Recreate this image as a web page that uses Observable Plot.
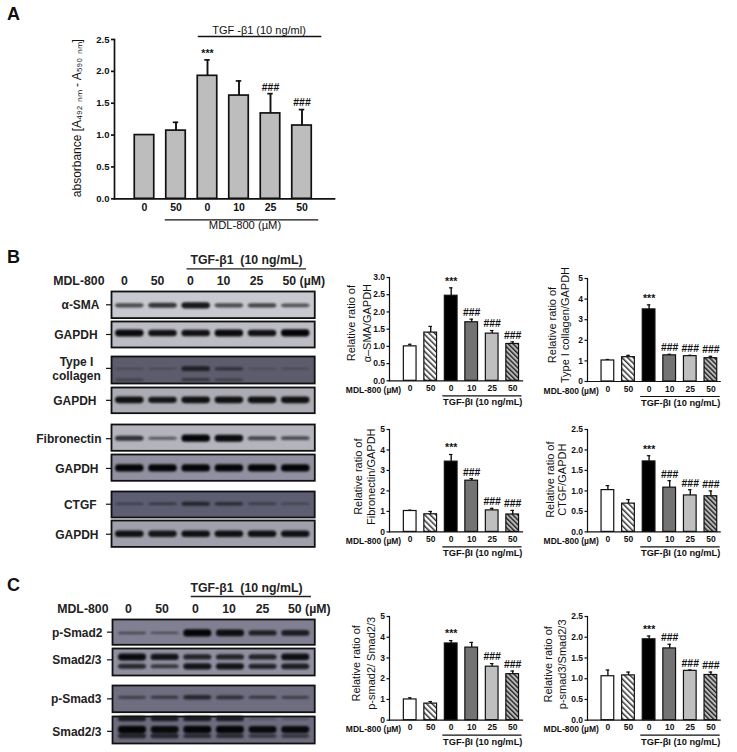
<!DOCTYPE html>
<html><head><meta charset="utf-8">
<script src="https://cdn.jsdelivr.net/npm/d3@7"></script>
<script src="https://cdn.jsdelivr.net/npm/@observablehq/plot@0.6"></script>
<style>
html,body{margin:0;padding:0;background:#fff}
#root{position:relative;width:737px;height:752px;overflow:hidden;font-family:"Liberation Sans",Arial,sans-serif}
#root svg.p{position:absolute;background:transparent;max-width:none;overflow:visible}
.letter{position:absolute;font-weight:bold;font-size:18px;line-height:18px;color:#111}
.blot g[aria-label="bar"]{filter:blur(.8px)}
</style></head><body>
<svg width="0" height="0" style="position:absolute">
<defs>
<pattern id="hatchLight" width="4" height="4" patternUnits="userSpaceOnUse" patternTransform="rotate(-45)">
<rect width="4" height="4" fill="#fff"/><rect width="1.5" height="4" fill="#333"/></pattern>
<pattern id="hatchDark" width="3.4" height="3.4" patternUnits="userSpaceOnUse" patternTransform="rotate(-45)">
<rect width="3.4" height="3.4" fill="#bbb"/><rect width="1.4" height="3.4" fill="#222"/></pattern>
</defs></svg>
<div id="root">
<div class="letter" style="left:7px;top:5px">A</div>
<div class="letter" style="left:7px;top:248px">B</div>
<div class="letter" style="left:7px;top:576px">C</div>
</div>
<script>
// ---- categories and labels
const groups = ["ctl 0","ctl 50","TGF 0","TGF 10","TGF 25","TGF 50"];
const doses = ["0","50","0","10","25","50"];
const barFills = ["white","url(#hatchLight)","black","#737373","#bfbfbf","url(#hatchDark)"];
const sig3 = ["","","***","###","###","###"];
const sig2 = ["","","***","","###","###"];

// ---- bar values: mean and top of error bar
const absMean = [1.0,1.07,1.93,1.62,1.34,1.15];
const absTop  = [1.0,1.20,2.18,1.85,1.65,1.40];
const smaMean = [1.0,1.40,2.47,1.70,1.37,1.07];
const smaTop  = [1.06,1.58,2.70,1.79,1.46,1.13];
const colMean = [1.02,1.18,3.50,1.27,1.23,1.13];
const colTop  = [1.07,1.27,3.72,1.32,1.27,1.22];
const fibMean = [1.02,0.86,3.43,2.50,1.05,0.85];
const fibTop  = [1.06,1.00,3.78,2.60,1.15,1.05];
const ctgfMean= [1.02,0.69,1.72,1.08,0.89,0.87];
const ctgfTop = [1.13,0.79,1.86,1.25,1.03,1.00];
const ps2Mean = [1.00,0.80,3.70,3.50,2.58,2.22];
const ps2Top  = [1.08,0.90,3.84,3.75,2.73,2.37];
const ps3Mean = [1.06,1.08,1.95,1.73,1.19,1.09];
const ps3Top  = [1.21,1.16,2.03,1.83,1.21,1.16];

// ---- blot band strengths per lane (0..1)
const bSMA  = [.5,.65,.85,.5,.55,.45];
const bG1   = [.95,.9,.9,.95,.9,1];
const bCol  = [.08,.05,.6,.35,.04,.06];
const bCol2 = [.15,0,.3,.22,0,0];
const bG2   = [.9,.85,.9,.9,.9,.9];
const bFib  = [.65,.35,1,.95,.5,.45];
const bG3   = [1,1,1,1,1,1];
const bCTGF = [.2,.25,.5,.4,.22,.15];
const bG4   = [.9,.85,.9,.9,.9,.9];
const bPS2  = [.25,.2,1,.9,.7,.75];
const bS1a  = [.95,.85,.7,.7,.7,.9];
const bS1b  = [.65,.5,.85,.85,.7,.75];
const bPS3  = [.3,.35,.55,.45,.35,.3];
const bS2a  = [.7,.7,.7,.7,.1,.1];
const bS2b  = [1,.95,1,1,.95,.95];
const bS2c  = [.6,.6,.5,.5,.4,.4];

const root = document.getElementById("root");
function place(svg,left,top){svg.classList.add("p");svg.style.left=left+"px";svg.style.top=top+"px";svg.style.background="transparent";root.append(svg);return svg;}
const at=k=>()=>groups[k];

function barChart(o){
  const mL=64,mT=24,mR=22,mB=46;
  const W=o.xEnd-o.ax, H=o.yBase-o.yTop;
  const rows=groups.map((g,i)=>({g,dose:doses[i],mean:o.mean[i],top:o.top[i],sig:o.sig[i]}));
  const inner=1-o.w/o.step;
  const x0=o.c0-o.step/2-o.ax+mL;
  const sw=o.big?1.7:1.2;
  const svg=Plot.plot({
    width:W+mL+mR,height:H+mT+mB,marginLeft:mL,marginTop:mT,marginRight:mR,marginBottom:mB,
    style:{fontFamily:'"Liberation Sans",Arial,sans-serif',fontWeight:"bold",fontSize:o.fs+"px",color:"#111",background:"transparent"},
    x:{domain:groups,range:[x0,x0+6*o.step],paddingInner:inner,paddingOuter:inner/2,round:false,label:null},
    y:{domain:[0,o.max],label:null},
    color:{domain:groups,range:o.fills},
    marks:[
      Plot.ruleX(rows.filter(d=>d.top>d.mean),{x:"g",y1:"mean",y2:"top",strokeWidth:sw+.2,stroke:"#111"}),
      Plot.tickY(rows.filter(d=>d.top>d.mean),{x:"g",y:"top",strokeWidth:sw,stroke:"#111",insetLeft:o.w*.36,insetRight:o.w*.36}),
      Plot.barY(rows,{x:"g",y:"mean",fill:"g",stroke:"#111",strokeWidth:sw}),
      Plot.frame({anchor:"left",strokeWidth:sw,stroke:"#111"}),
      Plot.frame({anchor:"bottom",strokeWidth:sw,stroke:"#111"}),
      Plot.axisY({ticks:o.ticks,tickFormat:o.tf,tickSize:o.big?3:2.5,tickPadding:2,strokeWidth:sw,label:null}),
      Plot.axisX({tickSize:0,tickPadding:o.big?5:4,tickFormat:d=>doses[groups.indexOf(d)],fontSize:o.xfs,label:null}),
      Plot.text(rows,{x:"g",y:"top",text:d=>d.sig,dy:-6.5,fontSize:10.5,fontWeight:d=>d.sig==="***"?"bold":"normal",lineAnchor:"middle"}),
      Plot.text([o.yLabel],{frameAnchor:"left",textAnchor:"middle",rotate:-90,dx:o.ylDx,fontSize:o.ylfs,fontWeight:"normal",lineHeight:o.ylh,dy:o.ylDy||0}),
      ...o.extra(rows)
    ]
  });
  place(svg,o.ax-mL,o.yTop-mT);
}

const lowerB=()=>[
  Plot.text(["MDL-800 (µM)"],{x:at(0),y:()=>0,dx:-9,dy:9.5,textAnchor:"end",fontSize:8.5}),
  Plot.ruleY([0],{x1:at(2),x2:at(5),dy:15,insetLeft:-2,insetRight:-3,stroke:"#111",strokeWidth:1.2}),
  Plot.text(["TGF-βI (10 ng/mL)"],{x:at(3),y:()=>0,dx:11,dy:21.5,fontSize:9.3})
];

const f1=d3.format(".1f"), f0=d3.format("d");
const common={w:12.7,step:20.5,fs:8.5,xfs:8.5,fills:barFills,extra:lowerB,ylfs:11};

// Panel A
barChart({ax:114,xEnd:334,yTop:38.7,yBase:198,c0:144,step:31.5,w:19.5,max:2.5,ticks:[0,.5,1,1.5,2,2.5],tf:f1,
  mean:absMean,top:absTop,sig:sig2,fills:groups.map(()=>"#bdbdbd"),fs:9.5,xfs:10.5,big:true,
  yLabel:"absorbance [A₄₉₂ ₙₘ - A₅₉₀ ₙₘ]",ylDx:-38,ylfs:12,ylh:1.2,ylDy:-1,
  extra:()=>[
    Plot.ruleY([2.5],{x1:at(2),x2:at(5),dy:-3,insetLeft:.5,insetRight:-10,stroke:"#111",strokeWidth:1.3}),
    Plot.text(["TGF -β1 (10 ng/ml)"],{x:at(3),y:()=>2.5,dx:20,dy:-9.5,fontSize:11,fontWeight:"normal"}),
    Plot.ruleY([0],{x1:at(1),x2:at(5),dy:21,insetLeft:-1,insetRight:-7,stroke:"#111",strokeWidth:1.3}),
    Plot.text(["MDL-800 (µM)"],{x:at(3),y:()=>0,dx:6,dy:27,fontSize:11.2,fontWeight:"normal"})
  ]});

// Panel B and C bars
barChart({...common,ax:389,xEnd:522,yTop:276.7,yBase:380,c0:409.7,max:3,ticks:[0,.5,1,1.5,2,2.5,3],tf:f1,mean:smaMean,top:smaTop,sig:sig3,yLabel:"Relative ratio of\nα–SMA/GAPDH",ylDx:-32,ylDy:-6,ylh:1.45});
barChart({...common,ax:587.3,xEnd:720,yTop:277.7,yBase:380.7,c0:607.7,step:20.6,max:5,ticks:[0,1,2,3,4,5],tf:f0,mean:colMean,top:colTop,sig:sig3,yLabel:"Relative ratio of\nType I collagen/GAPDH",ylDx:-29,ylDy:-5,ylh:1.2});
barChart({...common,ax:389,xEnd:522,yTop:429.3,yBase:531.7,c0:409.7,max:5,ticks:[0,1,2,3,4,5],tf:f0,mean:fibMean,top:fibTop,sig:sig3,yLabel:"Relative ratio of\nFibronectin/GAPDH",ylDx:-25,ylDy:-4,ylh:1.15});
barChart({...common,ax:587.3,xEnd:720,yTop:429.3,yBase:531.7,c0:607.7,step:20.6,max:2.5,ticks:[0,.5,1,1.5,2,2.5],tf:f1,mean:ctgfMean,top:ctgfTop,sig:sig3,yLabel:"Relative ratio of\nCTGF/GAPDH",ylDx:-31,ylDy:-1,ylh:1.1});
barChart({...common,ax:389,xEnd:522,yTop:616.3,yBase:720,c0:409.7,max:5,ticks:[0,1,2,3,4,5],tf:f0,mean:ps2Mean,top:ps2Top,sig:sig2,yLabel:"Relative ratio of\np-smad2/ Smad2/3",ylDx:-26.5,ylDy:-5,ylh:1.36});
barChart({...common,ax:587.3,xEnd:720,yTop:616.3,yBase:720,c0:607.7,step:20.6,max:2.5,ticks:[0,.5,1,1.5,2,2.5],tf:f1,mean:ps3Mean,top:ps3Top,sig:sig3,yLabel:"Relative ratio of\np-smad3/Smad2/3",ylDx:-33,ylDy:-4,ylh:1.28});

// Western blot strips
function blot(o){
  const mL=100,pad=2,h=o.y2-o.y1,w=o.x2-o.x1;
  const step=(o.c5-o.c0)/5;
  const x0=o.c0-step/2-o.x1+mL;
  const inner=.14;
  const rows=[];
  o.bands.forEach(b=>b.s.forEach((s,i)=>{ if(s>0) rows.push({g:groups[i],y:b.y,s}); }));
  const t=s=>(.8+s*6.5)/h;
  const svg=Plot.plot({
    width:w+mL+pad,height:h,marginLeft:mL,marginRight:pad,marginTop:0,marginBottom:0,
    style:{fontFamily:'"Liberation Sans",Arial,sans-serif',fontWeight:"bold",fontSize:"12px",color:"#222",background:"transparent"},
    x:{domain:groups,range:[x0,x0+6*step],paddingInner:inner,paddingOuter:inner/2,round:false,axis:null},
    y:{domain:[0,1],reverse:true,label:null},
    opacity:{type:"identity"},
    marks:[
      Plot.frame({fill:o.bg,stroke:"none"}),
      Plot.barY(rows,{x:"g",y1:d=>d.y-t(d.s)/2,y2:d=>d.y+t(d.s)/2,fill:"#050508",fillOpacity:d=>.3+.7*d.s,rx:3.5}),
      Plot.frame({stroke:"#111",strokeWidth:1.8}),
      Plot.axisY({ticks:[o.tick],tickSize:5,tickPadding:o.tp,tickFormat:()=>o.label,textAnchor:o.ta||"end",lineHeight:1.2,stroke:"#111",strokeWidth:1.2,label:null})
    ]
  });
  svg.classList.add("blot");
  place(svg,o.x1-mL,o.y1);
}
const rB={x1:110.7,x2:314,c0:129,c5:295,tp:4};
blot({...rB,label:"α-SMA",y1:290.7,y2:317.3,bg:"#c8c8d0",tick:.5,tp:7,bands:[{y:.54,s:bSMA}]});
blot({...rB,label:"GAPDH",y1:321.3,y2:347.3,bg:"#bcbcc4",tick:.5,tp:9,bands:[{y:.46,s:bG1}]});
blot({...rB,label:"Type I\ncollagen",y1:356.3,y2:383.3,bg:"#5c5c6c",tick:.44,tp:30,ta:"middle",bands:[{y:.47,s:bCol},{y:.88,s:bCol2}]});
blot({...rB,label:"GAPDH",y1:387,y2:412.7,bg:"#acacb4",tick:.5,tp:10,bands:[{y:.5,s:bG2}]});
blot({...rB,label:"Fibronectin",y1:424,y2:450.3,bg:"#b4b4bc",tick:.54,tp:5,bands:[{y:.54,s:bFib}]});
blot({...rB,label:"GAPDH",y1:453.7,y2:480,bg:"#9090a0",tick:.53,tp:8,bands:[{y:.53,s:bG3}]});
blot({...rB,label:"CTGF",y1:490.7,y2:516.7,bg:"#5e5e72",tick:.49,tp:10,bands:[{y:.49,s:bCTGF}]});
blot({...rB,label:"GAPDH",y1:520.3,y2:546.7,bg:"#a0a0ac",tick:.52,tp:8,bands:[{y:.52,s:bG4}]});
const rC={x1:111.7,x2:314,c0:131.7,c5:295,tp:5};
blot({...rC,label:"p-Smad2",y1:618.7,y2:644,bg:"#808092",tick:.5,bands:[{y:.55,s:bPS2}]});
blot({...rC,label:"Smad2/3",y1:648.3,y2:675.3,bg:"#9090a0",tick:.42,tp:6,bands:[{y:.33,s:bS1a},{y:.68,s:bS1b}]});
blot({...rC,label:"p-Smad3",y1:685.3,y2:712,bg:"#6e6e80",tick:.5,tp:6,bands:[{y:.46,s:bPS3}]});
blot({...rC,label:"Smad2/3",y1:715.7,y2:742.7,bg:"#6c6c7e",tick:.55,tp:6,bands:[{y:.1,s:bS2a},{y:.5,s:bS2b},{y:.74,s:bS2c}]});

// Blot headers
function head(o){
  const step=o.step;
  const rows=groups.map((g,i)=>({g,dose:doses[i]}));
  const svg=Plot.plot({
    width:360,height:44,margin:0,
    style:{fontFamily:'"Liberation Sans",Arial,sans-serif',fontWeight:"bold",fontSize:"12px",color:"#222",background:"transparent"},
    x:{type:"band",domain:groups,range:[o.c0-step/2,o.c0+5.5*step],round:false,padding:0,axis:null},
    y:{domain:[0,1],axis:null},
    marks:[
      Plot.text(["TGF-β1\u00a0\u00a0(10 ng/mL)"],{x:at(3),dx:o.tgfDx,frameAnchor:"top",textAnchor:"middle",lineAnchor:"middle",dy:o.d1,fontSize:12.3}),
      Plot.ruleY([1],{x1:at(2),x2:at(5),dy:o.d2,insetLeft:o.il,insetRight:o.ir,stroke:"#222",strokeWidth:1.3}),
      Plot.text(rows.slice(0,5),{x:"g",text:"dose",frameAnchor:"top",lineAnchor:"middle",dy:o.d3,fontSize:12.3}),
      Plot.text(["50 (µM)"],{x:at(5),frameAnchor:"top",lineAnchor:"middle",dy:o.d3,dx:o.mDx,textAnchor:"start",fontSize:12.3}),
      Plot.text(["MDL-800"],{x:at(0),frameAnchor:"top",lineAnchor:"middle",dy:o.d3,dx:-20,textAnchor:"end",fontSize:12.3})
    ]
  });
  place(svg,0,o.top);
}
head({top:250,c0:124,step:33,tgfDx:23,d1:10,d2:18.3,d3:31,il:13,ir:-.5,mDx:-7});
head({top:577,c0:128,step:33.5,tgfDx:17.5,d1:10.5,d2:19,d3:32,il:12.5,ir:1.3,mDx:-8});
</script>
</body></html>
